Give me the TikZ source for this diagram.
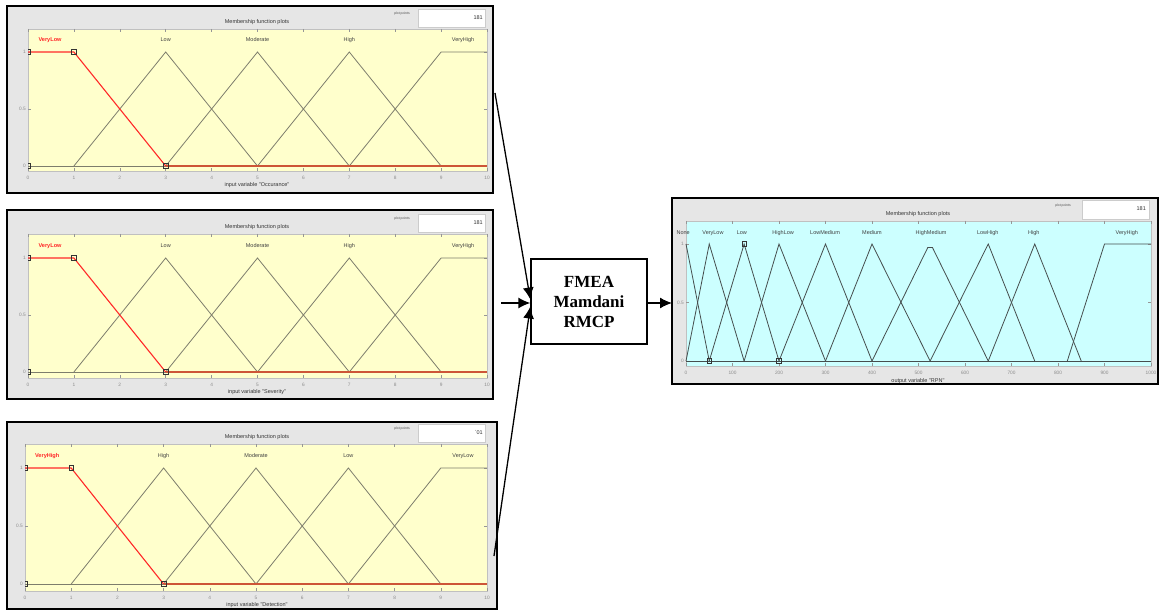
\documentclass[tikz,border=0pt]{standalone}
\usepackage{fontspec}
\setmainfont{Liberation Serif}
\newfontfamily\mlab{Liberation Sans}
\usetikzlibrary{arrows.meta}
\definecolor{panelgray}{RGB}{230,230,230}
\definecolor{plotyellow}{RGB}{255,255,204}
\definecolor{plotcyan}{RGB}{204,255,255}
\definecolor{mfgray}{RGB}{125,125,108}
\definecolor{mfdark}{RGB}{70,78,78}
\definecolor{mfred}{RGB}{255,40,40}
\definecolor{mfbrown}{RGB}{205,85,55}
\definecolor{tickgray}{RGB}{150,150,150}
\tikzset{
 frame/.style={draw=black,line width=1.5pt,fill=panelgray},
 plotbox/.style={draw=tickgray!60,line width=0.4pt},
 tickmark/.style={draw=tickgray,line width=0.5pt},
 mfline/.style={draw=mfgray,line width=0.8pt},
 outline/.style={draw=mfdark,line width=0.8pt},
 selline/.style={draw=mfred,line width=1.1pt},
 ticklab/.style={font=\mlab\fontsize{4.8}{5}\selectfont,text=black!45,inner sep=0pt},
 mflab/.style={font=\mlab\fontsize{5.5}{6}\selectfont,text=black!75,inner sep=0pt},
 sellab/.style={font=\mlab\bfseries\fontsize{5.6}{6}\selectfont,text=mfred,inner sep=0pt},
 titlelab/.style={font=\mlab\fontsize{5.5}{6}\selectfont,text=black!80,inner sep=0pt},
 pplab/.style={font=\mlab\fontsize{3.4}{4}\selectfont,text=black!70,inner sep=0pt},
 ppbox/.style={fill=white,draw=gray!40,line width=0.3pt},
 marker/.style={draw=black!80,line width=0.6pt,minimum size=4.5pt,inner sep=0pt},
 arrowline/.style={draw=black,line width=1.3pt,-{Latex[length=12pt,width=11pt]}},
 engine/.style={draw=black,line width=1.3pt,fill=white,minimum width=116pt,minimum height=85pt,align=center,font=\bfseries\fontsize{17}{20}\selectfont,inner sep=0pt},
}
% #1 name, #2 frame top, #3 frame bottom, #4 frame right, #5 plot left,
% #6 plot top, #7 plot bottom, #8 y of value 1, #9 y of value 0
\newcommand\mfpanel[9]{%
 \pgfmathsetmacro\ux{(487-#5)/10}%
 \pgfmathsetmacro\uy{#9-#8}%
 \pgfmathsetmacro\yb{-(#7-#9)/\uy}%
 \pgfmathsetmacro\yt{(#9-#6)/\uy}%
 \draw[frame] (7,#2) rectangle (#4,#3);
 \filldraw[plotbox,fill=plotyellow] (#5,#6) rectangle (487,#7);
 \node[pplab] (#1pp) at (402,#6-15) {plot points};
 \draw[ppbox] (418,#6-20) rectangle (485,#6-2);
 \node[titlelab,anchor=east] (#1np) at (483,#6-11) {\ppnum};
 \node[titlelab] (#1title) at (257,#6-7) {Membership function plots};
 \node[titlelab] (#1axis) at (257,#7+14) {input variable "\axname"};
 \begin{scope}[shift={(#5,#9)},x=\ux pt,y=\uy pt]
  \foreach \i in {0,...,10}{
   \draw[tickmark] (\i,\yb) -- ++(0pt,3pt);
   \draw[tickmark] (\i,\yt) -- ++(0pt,-3pt);
   \node[ticklab] (#1x\i) at ([yshift=-7pt]\i,\yb) {\i};
  }
  \foreach \j [count=\k] in {0,0.5,1}{
   \draw[tickmark] (0,\j) -- ++(3pt,0pt);
   \draw[tickmark] (10,\j) -- ++(-3pt,0pt);
   \node[ticklab,anchor=east] (#1y\k) at ([xshift=-2pt]0,\j) {\j};
  }
  \draw[mfline] (0,0) -- (10,0);
  \draw[mfline] (1,0) -- (3,1) -- (5,0);
  \draw[mfline] (3,0) -- (5,1) -- (7,0);
  \draw[mfline] (5,0) -- (7,1) -- (9,0);
  \draw[mfline] (7,0) -- (9,1) -- (10,1);
  \draw[selline,draw=mfbrown] (3,0) -- (10,0);
  \draw[selline] (0,1) -- (1,1) -- (3,0);
  \begin{scope}
   \clip (0,\yb) rectangle (10,\yt);
   \node[marker] (#1m1) at (0,1) {};
   \node[marker] (#1m2) at (1,1) {};
   \node[marker] (#1m3) at (3,0) {};
   \node[marker] (#1m4) at (0,0) {};
  \end{scope}
  \node[sellab] (#1lA) at ([yshift=12pt]0.48,1) {\lA};
  \node[mflab] (#1lB) at ([yshift=12pt]3,1) {\lB};
  \node[mflab] (#1lC) at ([yshift=12pt]5,1) {\lC};
  \node[mflab] (#1lD) at ([yshift=12pt]7,1) {\lD};
  \node[mflab] (#1lE) at ([yshift=12pt]9.48,1) {\lE};
 \end{scope}
}
\begin{document}
\begin{tikzpicture}[x=1pt,y=-1pt]
\useasboundingbox[fill=white] (0,0) rectangle (1160,612);

% ---- input panels ----
\def\lA{VeryLow}\def\lB{Low}\def\lC{Moderate}\def\lD{High}\def\lE{VeryHigh}
\def\axname{Occurance}\def\ppnum{181}
\mfpanel{occ}{6}{193}{493}{28}{29}{171}{52}{166}

\def\axname{Severity}
\mfpanel{sev}{210}{399}{493}{28}{234}{378}{258}{372}

\def\lA{VeryHigh}\def\lB{High}\def\lC{Moderate}\def\lD{Low}\def\lE{VeryLow}
\def\axname{Detection}\def\ppnum{`01}
\mfpanel{det}{422}{609}{497}{25}{444}{591}{468}{584}

% ---- output panel ----
\draw[frame] (672,198) rectangle (1158,384);
\filldraw[plotbox,fill=plotcyan] (686,221) rectangle (1151,366);
\node[pplab] (rpnpp) at (1063,206) {plot points};
\draw[ppbox] (1082,200) rectangle (1149,219);
\node[titlelab,anchor=east] (rpnnp) at (1146,209) {181};
\node[titlelab] (rpntitle) at (918,214) {Membership function plots};
\node[titlelab] (rpnaxis) at (918,381) {output variable "RPN"};
\begin{scope}[shift={(686,361)},x=0.465pt,y=117pt]
 \foreach \i in {0,100,...,1000}{
  \draw[tickmark] (\i,-0.0427) -- ++(0pt,3pt);
  \draw[tickmark] (\i,1.197) -- ++(0pt,-3pt);
  \node[ticklab] (rpnx\i) at ([yshift=-6.5pt]\i,-0.0427) {\i};
 }
 \foreach \j [count=\k] in {0,0.5,1}{
  \draw[tickmark] (0,\j) -- ++(3pt,0pt);
  \draw[tickmark] (1000,\j) -- ++(-3pt,0pt);
  \node[ticklab,anchor=east] (rpny\k) at ([xshift=-2pt]0,\j) {\j};
 }
 \draw[outline] (0,0) -- (1000,0);
 \draw[outline] (0,1) -- (50,0);
 \draw[outline] (0,0) -- (50,1) -- (125,0);
 \draw[outline] (50,0) -- (125,1) -- (200,0);
 \draw[outline] (125,0) -- (200,1) -- (300,0);
 \draw[outline] (200,0) -- (300,1) -- (400,0);
 \draw[outline] (300,0) -- (400,1) -- (525,0);
 \draw[outline] (400,0) -- (520,0.97) -- (530,0.97) -- (650,0);
 \draw[outline] (525,0) -- (650,1) -- (750,0);
 \draw[outline] (650,0) -- (750,1) -- (850,0);
 \draw[outline] (820,0) -- (900,1) -- (1000,1);
 \node[marker] (rpnm1) at (50,0) {};
 \node[marker] (rpnm2) at (200,0) {};
 \node[marker] (rpnm3) at (125,1) {};
 \node[mflab] (rpnl1) at ([yshift=11pt]-6,1) {None};
 \node[mflab] (rpnl2) at ([yshift=11pt]58,1) {VeryLow};
 \node[mflab] (rpnl3) at ([yshift=11pt]120,1) {Low};
 \node[mflab] (rpnl4) at ([yshift=11pt]209,1) {HighLow};
 \node[mflab] (rpnl5) at ([yshift=11pt]299,1) {LowMedium};
 \node[mflab] (rpnl6) at ([yshift=11pt]400,1) {Medium};
 \node[mflab] (rpnl7) at ([yshift=11pt]527,1) {HighMedium};
 \node[mflab] (rpnl8) at ([yshift=11pt]649,1) {LowHigh};
 \node[mflab] (rpnl9) at ([yshift=11pt]748,1) {High};
 \node[mflab] (rpnl10) at ([yshift=11pt]948,1) {VeryHigh};
\end{scope}

% ---- inference engine and connectors ----
\node[engine] (fmea) at (589,301.5) {FMEA\\Mamdani\\RMCP};
\coordinate (occout) at (495,93);
\coordinate (sevout) at (501,303);
\coordinate (detout) at (494,556);
\coordinate (rpnin) at (672,303);
\coordinate (fin1) at ([yshift=2pt]fmea.west);
\coordinate (fin2) at ([yshift=-1.5pt]fmea.west);
\coordinate (fin3) at ([yshift=-5pt]fmea.west);
\draw[arrowline] (occout) -- (fin1);
\draw[arrowline] (sevout) -- (fin2);
\draw[arrowline] (detout) -- (fin3);
\draw[arrowline] (fmea.east |- rpnin) -- (rpnin);
\end{tikzpicture}
\end{document}
